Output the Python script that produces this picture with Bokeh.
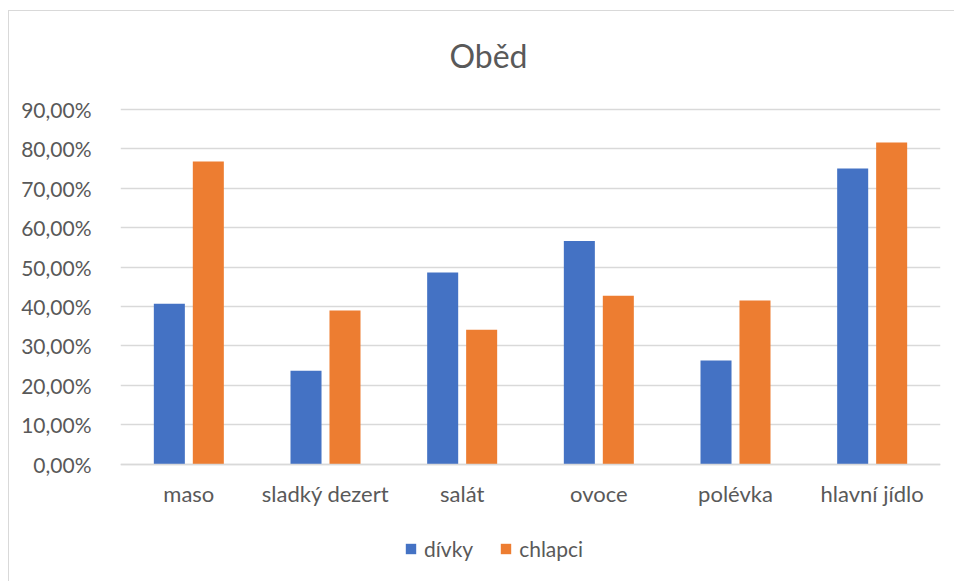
from bokeh.plotting import figure
from bokeh.models import (FactorRange, Range1d, ColumnDataSource, Legend, LegendItem, Label,
                          FixedTicker, CustomJSTickFormatter, InlineStyleSheet)
from bokeh.transform import dodge
from bokeh.embed import file_html
from bokeh.resources import INLINE

categories = ["maso", "sladký dezert", "salát", "ovoce", "polévka", "hlavní jídlo"]
divky = [0.407, 0.237, 0.486, 0.566, 0.263, 0.750]
chlapci = [0.768, 0.390, 0.341, 0.427, 0.415, 0.816]
series_names = ["dívky", "chlapci"]
y_ticks = [0.0, 0.1, 0.2, 0.3, 0.4, 0.5, 0.6, 0.7, 0.8, 0.9]
title_text = "Oběd"

FONT = "Lato"
TXT = "#595959"
GRID = "#d9d9d9"
BLUE = "#4472C4"
ORANGE = "#ED7D31"

source = ColumnDataSource(dict(cat=categories, divky=divky, chlapci=chlapci))

# frame spans full height; value axis 0..0.9 occupies px 463.5..109
PX_PER_UNIT = 354.5 / 0.9
y_lo = -(581 - 463.5) / PX_PER_UNIT
y_hi = 0.9 + 109 / PX_PER_UNIT

p = figure(width=954, height=581, x_range=FactorRange(*categories),
           y_range=Range1d(y_lo, y_hi),
           output_backend="svg", toolbar_location=None,
           min_border_left=120, min_border_right=14, min_border_top=0, min_border_bottom=0)
p.title = None
p.x_range.range_padding = 0
p.outline_line_color = None
p.background_fill_color = "white"
p.border_fill_color = "white"

bw = 0.227
off = 0.1426
r1 = p.vbar(x=dodge("cat", -off, range=p.x_range), top="divky", width=bw, source=source,
            fill_color=BLUE, line_color=None)
r2 = p.vbar(x=dodge("cat", off, range=p.x_range), top="chlapci", width=bw, source=source,
            fill_color=ORANGE, line_color=None)

# value axis
p.yaxis.ticker = FixedTicker(ticks=y_ticks)
p.yaxis.formatter = CustomJSTickFormatter(code="return (tick*100).toFixed(2).replace('.', ',') + '%';")
p.yaxis.axis_line_color = None
p.yaxis.major_tick_line_color = None
p.yaxis.minor_tick_line_color = None
p.yaxis.major_label_standoff = 23
p.yaxis.major_label_text_font = FONT
p.yaxis.major_label_text_font_size = "21px"
p.yaxis.major_label_text_color = TXT

# category axis, pinned at 0
p.xaxis.fixed_location = 0
p.xaxis.axis_line_color = GRID
p.xaxis.axis_line_width = 1.3
p.xaxis.major_tick_line_color = None
p.xaxis.minor_tick_line_color = None
p.xaxis.major_label_standoff = 10
p.xaxis.major_label_text_font = FONT
p.xaxis.major_label_text_font_size = "22px"
p.xaxis.major_label_text_color = TXT

p.xgrid.grid_line_color = None
p.ygrid.grid_line_color = GRID
p.ygrid.grid_line_width = 1.3

# title (synthetic x coordinate of the category range, y in value units)
p.add_layout(Label(x=(488 - 120) / (820 / 6), y=(463.5 - 55) / PX_PER_UNIT, text=title_text,
                   text_font=FONT, text_font_size="32px", text_color=TXT,
                   text_align="center", text_baseline="middle"))

# chart border (left/top visible)
p.stylesheets = [InlineStyleSheet(css=""":host::after { content: ''; position: absolute;
  left: 8px; top: 10px; width: 1000px; height: 1000px; border: 1px solid #d9d9d9;
  pointer-events: none; box-sizing: border-box; }
:host { overflow: hidden; }""")]

legend = Legend(items=[LegendItem(label=series_names[0], renderers=[r1]),
                       LegendItem(label=series_names[1], renderers=[r2])],
                orientation="horizontal", location=(284, 20),
                label_text_font=FONT, label_text_font_size="21px", label_text_color=TXT,
                glyph_width=13, glyph_height=13, label_standoff=7, spacing=26,
                padding=0, margin=0, border_line_color=None, background_fill_alpha=0)
p.add_layout(legend, "center")

open("out.html", "w").write(file_html(p, INLINE))
